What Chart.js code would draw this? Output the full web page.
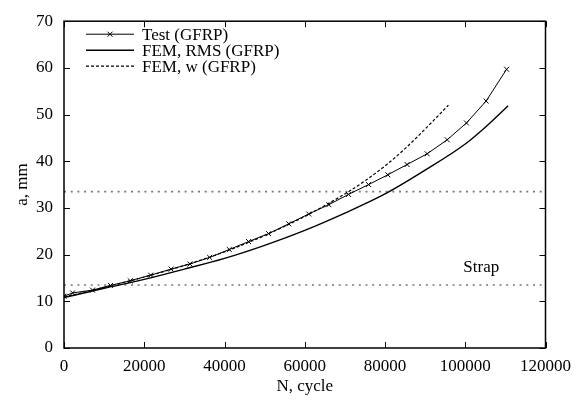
<!DOCTYPE html>
<html>
<head>
<meta charset="utf-8">
<script src="https://cdn.jsdelivr.net/npm/chart.js@4/dist/chart.umd.min.js"></script>
<style>
  html, body { margin: 0; padding: 0; background: #fff; }
  #wrap { width: 579px; height: 405px; }
</style>
</head>
<body>
<div id="wrap"><canvas id="crackChart" width="579" height="405"></canvas></div>
<script>
// crack length vs. load cycles, GFRP specimen
const testCycles = [0, 2150, 7100, 11600, 16500, 21600, 26700, 31400, 36300, 41200, 46000, 51000, 56000, 61000, 66000, 70900, 75900, 80700, 85500, 90500, 95500, 100300, 105200, 110300];
const testCrack = [11.1, 11.8, 12.4, 13.4, 14.4, 15.6, 16.9, 18.0, 19.4, 21.1, 22.8, 24.5, 26.6, 28.7, 30.7, 32.9, 35.0, 37.1, 39.3, 41.6, 44.6, 48.2, 52.9, 59.7];

const rmsCycles = [0, 10000, 20000, 30000, 40000, 50000, 60000, 70000, 80000, 90000, 100000, 105000, 110700];
const rmsCrack = [10.8, 12.8, 14.7, 16.9, 19.2, 22.0, 25.2, 28.9, 33.0, 38.1, 43.7, 47.3, 51.9];

const wCycles = [0, 10000, 20000, 30000, 40000, 50000, 60000, 70000, 75000, 80000, 85000, 90000, 95800];
const wCrack = [10.9, 13.0, 15.2, 17.7, 20.6, 24.1, 28.2, 33.0, 35.8, 39.0, 42.7, 46.9, 52.0];

// strap edges
const strapEdges = [13.5, 33.5];
const xTicks = [0, 20000, 40000, 60000, 80000, 100000, 120000];
const yTicks = [0, 10, 20, 30, 40, 50, 60, 70];

const serif = "'Liberation Serif', 'Times New Roman', serif";
Chart.defaults.font.family = serif;
Chart.defaults.color = "#000";

const toPoints = (xs, ys) => xs.map((x, i) => ({ x: x, y: ys[i] }));

const edgeLine = (y) => ({
  label: "edge",
  data: [{ x: 0, y: y }, { x: 120000, y: y }],
  borderColor: "#777",
  borderWidth: 1.6,
  borderDash: [2, 4.7],
  pointRadius: 0,
  inLegend: false,
});

// frame with inward ticks on all four sides
const framePlugin = {
  id: "frame",
  afterDraw(chart) {
    const { ctx, chartArea: a, scales } = chart;
    ctx.save();
    ctx.strokeStyle = "#000";
    ctx.lineWidth = 1.5;
    ctx.strokeRect(a.left, a.top, a.right - a.left, a.bottom - a.top);
    ctx.lineWidth = 1;
    const len = 6;
    ctx.beginPath();
    xTicks.forEach((v) => {
      const px = Math.round(scales.x.getPixelForValue(v)) + 0.5;
      ctx.moveTo(px, a.bottom); ctx.lineTo(px, a.bottom - len);
      ctx.moveTo(px, a.top); ctx.lineTo(px, a.top + len);
    });
    yTicks.forEach((v) => {
      const py = Math.round(scales.y.getPixelForValue(v)) + 0.5;
      ctx.moveTo(a.left, py); ctx.lineTo(a.left + len, py);
      ctx.moveTo(a.right, py); ctx.lineTo(a.right - len, py);
    });
    ctx.stroke();
    ctx.restore();
  },
};

// gnuplot-style key in the top left corner
const keyPlugin = {
  id: "key",
  afterDraw(chart) {
    const { ctx, chartArea: a } = chart;
    ctx.save();
    ctx.font = "17px " + serif;
    ctx.textBaseline = "middle";
    ctx.fillStyle = "#000";
    let y = a.top + 13;
    chart.data.datasets.forEach((ds) => {
      if (ds.inLegend === false) return;
      const x0 = a.left + 22, x1 = a.left + 70;
      ctx.strokeStyle = ds.borderColor;
      ctx.lineWidth = ds.borderWidth;
      ctx.setLineDash(ds.borderDash || []);
      ctx.beginPath();
      ctx.moveTo(x0, y); ctx.lineTo(x1, y);
      ctx.stroke();
      ctx.setLineDash([]);
      if (ds.pointRadius > 0) {
        const cx = (x0 + x1) / 2, r = 2.5;
        ctx.lineWidth = 1;
        ctx.beginPath();
        ctx.moveTo(cx - r, y - r); ctx.lineTo(cx + r, y + r);
        ctx.moveTo(cx - r, y + r); ctx.lineTo(cx + r, y - r);
        ctx.stroke();
      }
      ctx.fillText(ds.label, a.left + 78, y + 1);
      y += 16;
    });
    // region label
    ctx.textAlign = "center";
    ctx.fillText("Strap", chart.scales.x.getPixelForValue(104000), chart.scales.y.getPixelForValue(17.3));
    ctx.restore();
  },
};

new Chart(document.getElementById("crackChart"), {
  type: "line",
  data: {
    datasets: [
      {
        label: "Test (GFRP)",
        data: toPoints(testCycles, testCrack),
        borderColor: "#000",
        borderWidth: 1,
        pointStyle: "crossRot",
        pointRadius: 3.5,
        pointBorderColor: "#000",
        pointBorderWidth: 1,
        tension: 0,
      },
      {
        label: "FEM, RMS (GFRP)",
        data: toPoints(rmsCycles, rmsCrack),
        borderColor: "#000",
        borderWidth: 1.4,
        pointRadius: 0,
        cubicInterpolationMode: "monotone",
      },
      {
        label: "FEM, w (GFRP)",
        data: toPoints(wCycles, wCrack),
        borderColor: "#000",
        borderWidth: 1.2,
        borderDash: [3, 2],
        pointRadius: 0,
        cubicInterpolationMode: "monotone",
      },
      edgeLine(strapEdges[0]),
      edgeLine(strapEdges[1]),
    ],
  },
  options: {
    responsive: false,
    animation: false,
    layout: { padding: { top: 20, right: 30, left: 0, bottom: 0 } },
    plugins: { legend: { display: false }, tooltip: { enabled: false } },
    scales: {
      x: {
        type: "linear",
        min: 0,
        max: 120000,
        afterBuildTicks: (s) => { s.ticks = xTicks.map((v) => ({ value: v })); },
        afterFit: (s) => { s.height = 57; },
        grid: { display: false, drawTicks: false },
        border: { display: false },
        ticks: { font: { size: 17 }, padding: 8, maxRotation: 0, callback: (v) => String(v) },
        title: { display: true, text: "N, cycle", font: { size: 17 }, padding: { top: 0, bottom: 8 } },
      },
      y: {
        min: 0,
        max: 70,
        afterBuildTicks: (s) => { s.ticks = yTicks.map((v) => ({ value: v })); },
        afterFit: (s) => { s.width = 64; },
        grid: { display: false, drawTicks: false },
        border: { display: false },
        ticks: { font: { size: 17 }, padding: 11 },
        title: { display: true, text: "a, mm", font: { size: 17 }, padding: { top: 12, bottom: 0 } },
      },
    },
  },
  plugins: [framePlugin, keyPlugin],
});
</script>
</body>
</html>
